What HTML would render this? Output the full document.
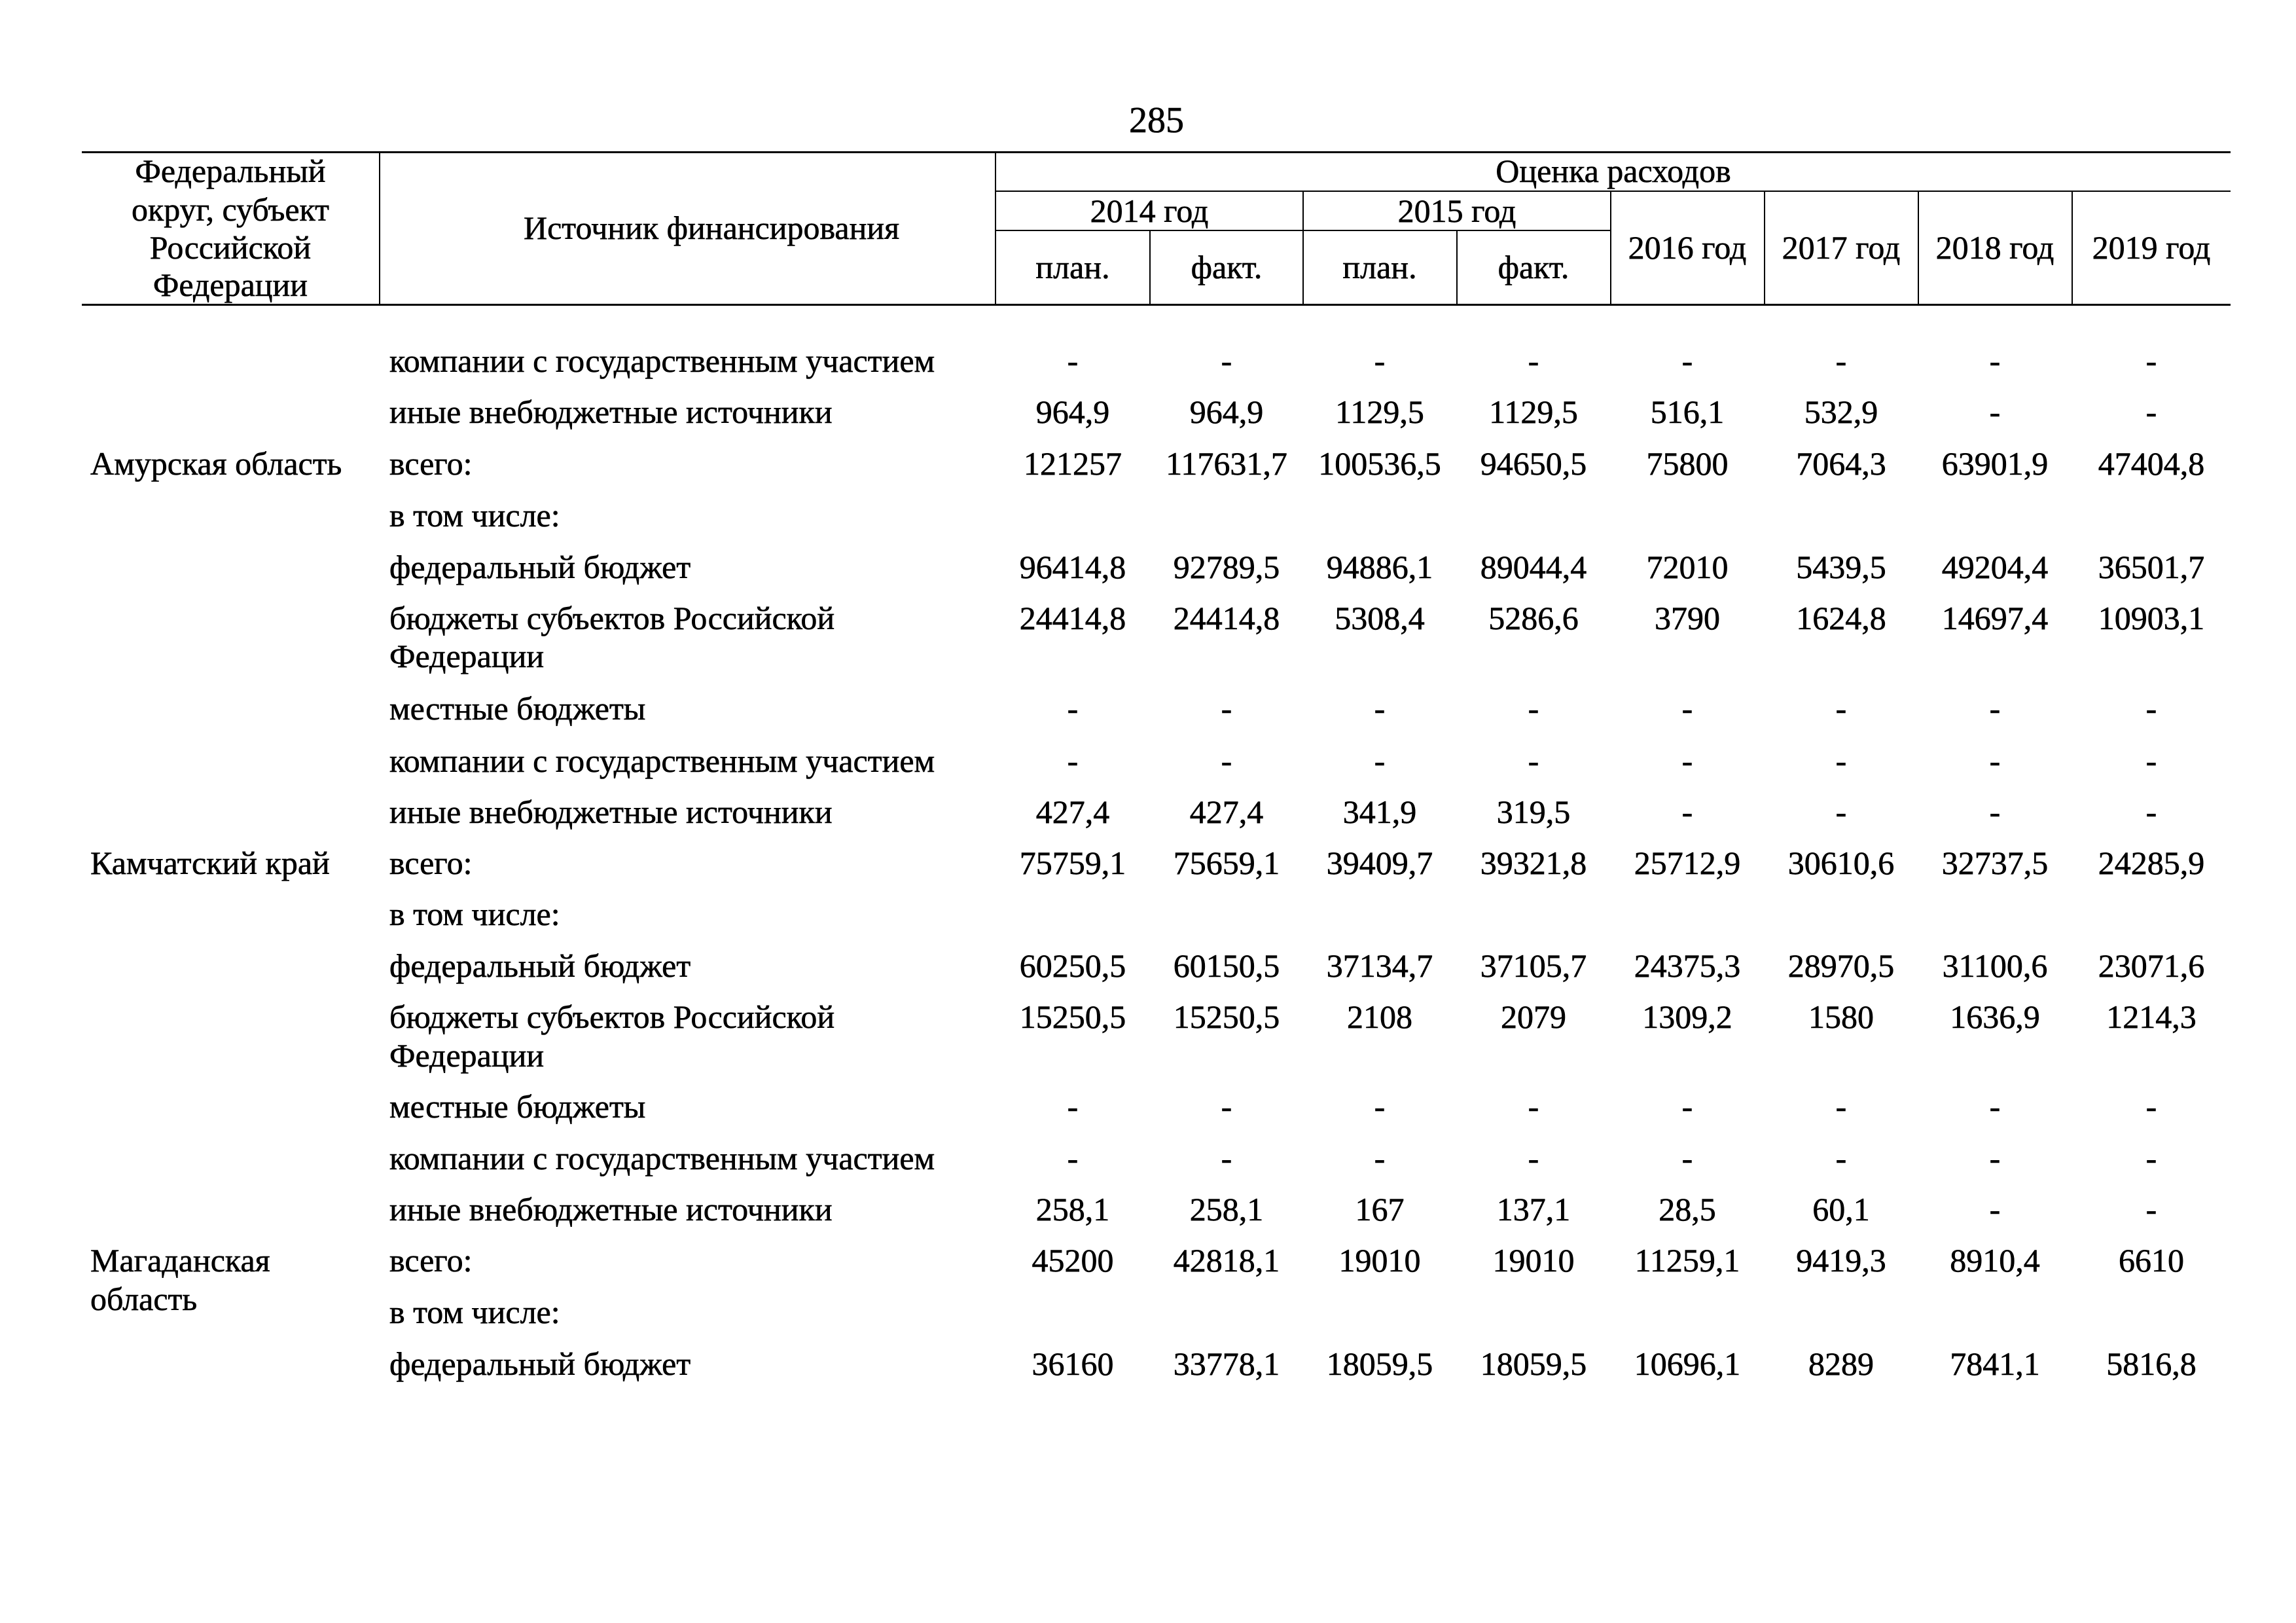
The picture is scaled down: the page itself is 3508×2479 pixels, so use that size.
<!DOCTYPE html>
<html lang="ru">
<head>
<meta charset="utf-8">
<style>
html,body{margin:0;padding:0;background:#fff;}
body{width:3508px;height:2479px;position:relative;overflow:hidden;font-family:"Liberation Serif","Noto Serif CJK SC",serif;color:#000;}
.t{position:absolute;font-size:50px;line-height:50px;white-space:nowrap;-webkit-text-stroke:0.6px #000;}
.c{width:500px;margin-left:-250px;text-align:center;}
.h{position:absolute;background:#000;}
</style>
</head>
<body>
<div class="t c" style="left:1767px;top:156px;font-size:56px;line-height:56px;">285</div>
<div class="h" style="left:125px;top:231px;width:3283px;height:3px;"></div>
<div class="h" style="left:1521px;top:291px;width:1887px;height:2px;"></div>
<div class="h" style="left:1521px;top:351px;width:940px;height:2px;"></div>
<div class="h" style="left:125px;top:464px;width:3283px;height:3px;"></div>
<div class="h" style="left:579px;top:232px;width:2px;height:234px;"></div>
<div class="h" style="left:1520px;top:232px;width:2px;height:234px;"></div>
<div class="h" style="left:1756px;top:352px;width:2px;height:114px;"></div>
<div class="h" style="left:1990px;top:292px;width:2px;height:174px;"></div>
<div class="h" style="left:2225px;top:352px;width:2px;height:114px;"></div>
<div class="h" style="left:2460px;top:292px;width:2px;height:174px;"></div>
<div class="h" style="left:2695px;top:292px;width:2px;height:174px;"></div>
<div class="h" style="left:2930px;top:292px;width:2px;height:174px;"></div>
<div class="h" style="left:3165px;top:292px;width:2px;height:174px;"></div>
<div class="t c" style="left:352px;top:236px;">Федеральный</div>
<div class="t c" style="left:352px;top:295px;">округ, субъект</div>
<div class="t c" style="left:352px;top:353px;">Российской</div>
<div class="t c" style="left:352px;top:410px;">Федерации</div>
<div class="t c" style="left:1050px;top:323px;">Источник финансирования</div>
<div class="t c" style="left:2465px;top:236px;">Оценка расходов</div>
<div class="t c" style="left:1756px;top:297px;">2014 год</div>
<div class="t c" style="left:2226px;top:297px;">2015 год</div>
<div class="t c" style="left:1639px;top:383px;">план.</div>
<div class="t c" style="left:1874px;top:383px;">факт.</div>
<div class="t c" style="left:2108px;top:383px;">план.</div>
<div class="t c" style="left:2343px;top:383px;">факт.</div>
<div class="t c" style="left:2578px;top:353px;">2016 год</div>
<div class="t c" style="left:2813px;top:353px;">2017 год</div>
<div class="t c" style="left:3048px;top:353px;">2018 год</div>
<div class="t c" style="left:3287px;top:353px;">2019 год</div>
<div class="t" style="left:138px;top:683px;">Амурская область</div>
<div class="t" style="left:138px;top:1293px;">Камчатский край</div>
<div class="t" style="left:138px;top:1900px;">Магаданская</div>
<div class="t" style="left:138px;top:1959px;">область</div>
<div class="t" style="left:595px;top:526px;">компании с государственным участием</div>
<div class="t" style="left:595px;top:604px;">иные внебюджетные источники</div>
<div class="t" style="left:595px;top:683px;">всего:</div>
<div class="t" style="left:595px;top:762px;">в том числе:</div>
<div class="t" style="left:595px;top:841px;">федеральный бюджет</div>
<div class="t" style="left:595px;top:919px;">бюджеты субъектов Российской</div>
<div class="t" style="left:595px;top:977px;">Федерации</div>
<div class="t" style="left:595px;top:1057px;">местные бюджеты</div>
<div class="t" style="left:595px;top:1137px;">компании с государственным участием</div>
<div class="t" style="left:595px;top:1215px;">иные внебюджетные источники</div>
<div class="t" style="left:595px;top:1293px;">всего:</div>
<div class="t" style="left:595px;top:1371px;">в том числе:</div>
<div class="t" style="left:595px;top:1450px;">федеральный бюджет</div>
<div class="t" style="left:595px;top:1528px;">бюджеты субъектов Российской</div>
<div class="t" style="left:595px;top:1587px;">Федерации</div>
<div class="t" style="left:595px;top:1665px;">местные бюджеты</div>
<div class="t" style="left:595px;top:1744px;">компании с государственным участием</div>
<div class="t" style="left:595px;top:1822px;">иные внебюджетные источники</div>
<div class="t" style="left:595px;top:1900px;">всего:</div>
<div class="t" style="left:595px;top:1979px;">в том числе:</div>
<div class="t" style="left:595px;top:2058px;">федеральный бюджет</div>
<div class="t c" style="left:1639px;top:526px;">-</div><div class="t c" style="left:1874px;top:526px;">-</div><div class="t c" style="left:2108px;top:526px;">-</div><div class="t c" style="left:2343px;top:526px;">-</div><div class="t c" style="left:2578px;top:526px;">-</div><div class="t c" style="left:2813px;top:526px;">-</div><div class="t c" style="left:3048px;top:526px;">-</div><div class="t c" style="left:3287px;top:526px;">-</div>
<div class="t c" style="left:1639px;top:604px;">964,9</div><div class="t c" style="left:1874px;top:604px;">964,9</div><div class="t c" style="left:2108px;top:604px;">1129,5</div><div class="t c" style="left:2343px;top:604px;">1129,5</div><div class="t c" style="left:2578px;top:604px;">516,1</div><div class="t c" style="left:2813px;top:604px;">532,9</div><div class="t c" style="left:3048px;top:604px;">-</div><div class="t c" style="left:3287px;top:604px;">-</div>
<div class="t c" style="left:1639px;top:683px;">121257</div><div class="t c" style="left:1874px;top:683px;">117631,7</div><div class="t c" style="left:2108px;top:683px;">100536,5</div><div class="t c" style="left:2343px;top:683px;">94650,5</div><div class="t c" style="left:2578px;top:683px;">75800</div><div class="t c" style="left:2813px;top:683px;">7064,3</div><div class="t c" style="left:3048px;top:683px;">63901,9</div><div class="t c" style="left:3287px;top:683px;">47404,8</div>
<div class="t c" style="left:1639px;top:841px;">96414,8</div><div class="t c" style="left:1874px;top:841px;">92789,5</div><div class="t c" style="left:2108px;top:841px;">94886,1</div><div class="t c" style="left:2343px;top:841px;">89044,4</div><div class="t c" style="left:2578px;top:841px;">72010</div><div class="t c" style="left:2813px;top:841px;">5439,5</div><div class="t c" style="left:3048px;top:841px;">49204,4</div><div class="t c" style="left:3287px;top:841px;">36501,7</div>
<div class="t c" style="left:1639px;top:919px;">24414,8</div><div class="t c" style="left:1874px;top:919px;">24414,8</div><div class="t c" style="left:2108px;top:919px;">5308,4</div><div class="t c" style="left:2343px;top:919px;">5286,6</div><div class="t c" style="left:2578px;top:919px;">3790</div><div class="t c" style="left:2813px;top:919px;">1624,8</div><div class="t c" style="left:3048px;top:919px;">14697,4</div><div class="t c" style="left:3287px;top:919px;">10903,1</div>
<div class="t c" style="left:1639px;top:1057px;">-</div><div class="t c" style="left:1874px;top:1057px;">-</div><div class="t c" style="left:2108px;top:1057px;">-</div><div class="t c" style="left:2343px;top:1057px;">-</div><div class="t c" style="left:2578px;top:1057px;">-</div><div class="t c" style="left:2813px;top:1057px;">-</div><div class="t c" style="left:3048px;top:1057px;">-</div><div class="t c" style="left:3287px;top:1057px;">-</div>
<div class="t c" style="left:1639px;top:1137px;">-</div><div class="t c" style="left:1874px;top:1137px;">-</div><div class="t c" style="left:2108px;top:1137px;">-</div><div class="t c" style="left:2343px;top:1137px;">-</div><div class="t c" style="left:2578px;top:1137px;">-</div><div class="t c" style="left:2813px;top:1137px;">-</div><div class="t c" style="left:3048px;top:1137px;">-</div><div class="t c" style="left:3287px;top:1137px;">-</div>
<div class="t c" style="left:1639px;top:1215px;">427,4</div><div class="t c" style="left:1874px;top:1215px;">427,4</div><div class="t c" style="left:2108px;top:1215px;">341,9</div><div class="t c" style="left:2343px;top:1215px;">319,5</div><div class="t c" style="left:2578px;top:1215px;">-</div><div class="t c" style="left:2813px;top:1215px;">-</div><div class="t c" style="left:3048px;top:1215px;">-</div><div class="t c" style="left:3287px;top:1215px;">-</div>
<div class="t c" style="left:1639px;top:1293px;">75759,1</div><div class="t c" style="left:1874px;top:1293px;">75659,1</div><div class="t c" style="left:2108px;top:1293px;">39409,7</div><div class="t c" style="left:2343px;top:1293px;">39321,8</div><div class="t c" style="left:2578px;top:1293px;">25712,9</div><div class="t c" style="left:2813px;top:1293px;">30610,6</div><div class="t c" style="left:3048px;top:1293px;">32737,5</div><div class="t c" style="left:3287px;top:1293px;">24285,9</div>
<div class="t c" style="left:1639px;top:1450px;">60250,5</div><div class="t c" style="left:1874px;top:1450px;">60150,5</div><div class="t c" style="left:2108px;top:1450px;">37134,7</div><div class="t c" style="left:2343px;top:1450px;">37105,7</div><div class="t c" style="left:2578px;top:1450px;">24375,3</div><div class="t c" style="left:2813px;top:1450px;">28970,5</div><div class="t c" style="left:3048px;top:1450px;">31100,6</div><div class="t c" style="left:3287px;top:1450px;">23071,6</div>
<div class="t c" style="left:1639px;top:1528px;">15250,5</div><div class="t c" style="left:1874px;top:1528px;">15250,5</div><div class="t c" style="left:2108px;top:1528px;">2108</div><div class="t c" style="left:2343px;top:1528px;">2079</div><div class="t c" style="left:2578px;top:1528px;">1309,2</div><div class="t c" style="left:2813px;top:1528px;">1580</div><div class="t c" style="left:3048px;top:1528px;">1636,9</div><div class="t c" style="left:3287px;top:1528px;">1214,3</div>
<div class="t c" style="left:1639px;top:1665px;">-</div><div class="t c" style="left:1874px;top:1665px;">-</div><div class="t c" style="left:2108px;top:1665px;">-</div><div class="t c" style="left:2343px;top:1665px;">-</div><div class="t c" style="left:2578px;top:1665px;">-</div><div class="t c" style="left:2813px;top:1665px;">-</div><div class="t c" style="left:3048px;top:1665px;">-</div><div class="t c" style="left:3287px;top:1665px;">-</div>
<div class="t c" style="left:1639px;top:1744px;">-</div><div class="t c" style="left:1874px;top:1744px;">-</div><div class="t c" style="left:2108px;top:1744px;">-</div><div class="t c" style="left:2343px;top:1744px;">-</div><div class="t c" style="left:2578px;top:1744px;">-</div><div class="t c" style="left:2813px;top:1744px;">-</div><div class="t c" style="left:3048px;top:1744px;">-</div><div class="t c" style="left:3287px;top:1744px;">-</div>
<div class="t c" style="left:1639px;top:1822px;">258,1</div><div class="t c" style="left:1874px;top:1822px;">258,1</div><div class="t c" style="left:2108px;top:1822px;">167</div><div class="t c" style="left:2343px;top:1822px;">137,1</div><div class="t c" style="left:2578px;top:1822px;">28,5</div><div class="t c" style="left:2813px;top:1822px;">60,1</div><div class="t c" style="left:3048px;top:1822px;">-</div><div class="t c" style="left:3287px;top:1822px;">-</div>
<div class="t c" style="left:1639px;top:1900px;">45200</div><div class="t c" style="left:1874px;top:1900px;">42818,1</div><div class="t c" style="left:2108px;top:1900px;">19010</div><div class="t c" style="left:2343px;top:1900px;">19010</div><div class="t c" style="left:2578px;top:1900px;">11259,1</div><div class="t c" style="left:2813px;top:1900px;">9419,3</div><div class="t c" style="left:3048px;top:1900px;">8910,4</div><div class="t c" style="left:3287px;top:1900px;">6610</div>
<div class="t c" style="left:1639px;top:2058px;">36160</div><div class="t c" style="left:1874px;top:2058px;">33778,1</div><div class="t c" style="left:2108px;top:2058px;">18059,5</div><div class="t c" style="left:2343px;top:2058px;">18059,5</div><div class="t c" style="left:2578px;top:2058px;">10696,1</div><div class="t c" style="left:2813px;top:2058px;">8289</div><div class="t c" style="left:3048px;top:2058px;">7841,1</div><div class="t c" style="left:3287px;top:2058px;">5816,8</div>
</body>
</html>
